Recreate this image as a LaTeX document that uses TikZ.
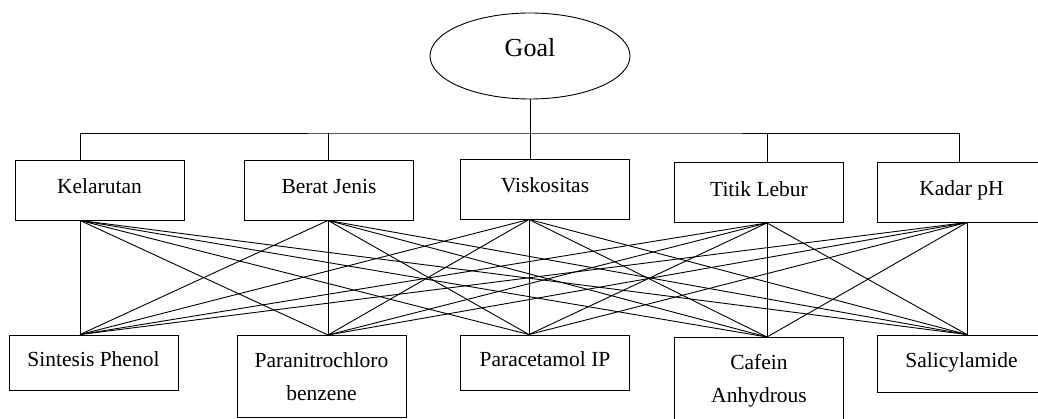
\documentclass[tikz,border=0pt]{standalone}
\usepackage{fontspec}
\setmainfont{Liberation Serif}
\usetikzlibrary{shapes.geometric}

\begin{document}
\begin{tikzpicture}[x=1pt, y=-1pt, line width=0.9pt]
    \tikzstyle{every node} = [rectangle, draw, align=center, inner sep=0pt,
        minimum width=169pt, minimum height=60pt, text height=15pt, text depth=7pt,
        font=\fontsize{21.5}{33}\selectfont]
    \tikzstyle{tall} = [anchor=north, minimum height=0pt, inner ysep=17pt,
        text height={}, text depth={}]

    \useasboundingbox (0,0) rectangle (1038,419);
    \clip (0,0) rectangle (1038,419);

    \coordinate (c1) at (80,0);
    \coordinate (c2) at (328,0);
    \coordinate (c3) at (529,0);
    \coordinate (c4) at (767,0);
    \coordinate (c5) at (967,0);
    \coordinate (d5) at (959,0);
    \coordinate (bus) at (530,133);

    \node (goal) at (530,56) [ellipse, minimum width=200pt, minimum height=86pt,
        text height=18pt, text depth=16pt, font=\fontsize{26}{30}\selectfont] {Goal};

    \node (t1) at (99.5,190) {Kelarutan};
    \node (t2) at (329,190) {Berat Jenis};
    \node (t3) at (545,189) {Viskositas};
    \node (t4) at (759,192.5) {Titik Lebur};
    \node (t5) at (961.5,192) {Kadar pH};

    \node (b1) at (93.5,362.5) [minimum height=55pt] {Sintesis Phenol};
    \node (b2) at (321.5,335) [tall] {Paranitrochloro \\ benzene};
    \node (b3) at (545,362.5) [minimum height=55pt] {Paracetamol IP};
    \node (b4) at (759,337) [tall] {Cafein \\ Anhydrous};
    \node (b5) at (961.5,363.5) [minimum height=57pt] {Salicylamide};

    \draw (goal.south) -- (goal.south |- t3.north);
    \draw (t1.north -| c1) |- (bus) -| (t5.north -| d5);
    \draw (bus -| c2) -- (t2.north -| c2);
    \draw (bus -| c4) -- (t4.north -| c4);

    \foreach \i in {1,...,5}
        \foreach \j in {1,...,5}
            \draw (t\i.south -| c\i) -- (b\j.north -| c\j);
\end{tikzpicture}
\end{document}
